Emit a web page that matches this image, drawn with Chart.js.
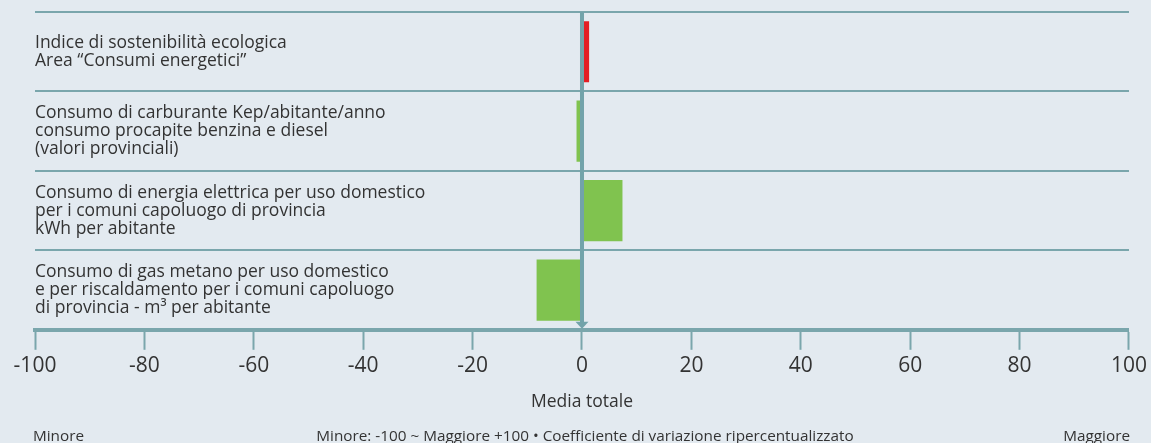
<!DOCTYPE html>
<html>
<head>
<meta charset="utf-8">
<script src="https://cdn.jsdelivr.net/npm/chart.js@4"></script>
<style>
  html, body { margin: 0; padding: 0; background: #e3eaf0; }
  #wrap { width: 1151px; height: 443px; position: relative; }
</style>
</head>
<body>
<div id="wrap"><canvas id="indexChart"></canvas></div>
<script>
// indicators, top to bottom
const indicators = [
    ['Indice di sostenibilità ecologica', 'Area \u201cConsumi energetici\u201d'],
    ['Consumo di carburante Kep/abitante/anno', 'consumo procapite benzina e diesel', '(valori provinciali)'],
    ['Consumo di energia elettrica per uso domestico', 'per i comuni capoluogo di provincia', 'kWh per abitante'],
    ['Consumo di gas metano per uso domestico', 'e per riscaldamento per i comuni capoluogo', 'di provincia - m\u00b3 per abitante']
];
// coefficient of variation, -100 .. +100
const values = [1.3, -1.0, 7.4, -8.3];
const barColors = ['#e31e24', '#80c34f', '#80c34f', '#80c34f'];

const axisMin = -100;
const axisMax = 100;
const axisStep = 20;
const axisTitle = 'Media totale';
const footLeft = 'Minore';
const footCenter = 'Minore: -100 ~ Maggiore +100 \u2022 Coefficiente di variazione ripercentualizzato';
const footRight = 'Maggiore';

const teal = '#7aa6ac';
const textColor = '#333333';
const fontFamily = "'Open Sans', 'Noto Sans', sans-serif";

// thick vertical line on the zero value, with a small arrow at the bottom
const zeroLine = {
    id: 'zeroLine',
    afterDatasetsDraw(chart) {
        const { ctx, chartArea, scales } = chart;
        const x = scales.x.getPixelForValue(0);
        ctx.save();
        ctx.strokeStyle = '#72a3aa';
        ctx.lineWidth = 4;
        ctx.beginPath();
        ctx.moveTo(x, chartArea.top);
        ctx.lineTo(x, chartArea.bottom - 4);
        ctx.stroke();
        ctx.fillStyle = '#72a3aa';
        ctx.beginPath();
        ctx.moveTo(x - 6.5, chartArea.bottom - 8);
        ctx.lineTo(x + 6.5, chartArea.bottom - 8);
        ctx.lineTo(x, chartArea.bottom - 1);
        ctx.closePath();
        ctx.fill();
        ctx.restore();
    }
};

// the scale legend line under the chart
const footNote = {
    id: 'footNote',
    afterDraw(chart) {
        const { ctx, chartArea, scales } = chart;
        const y = 437;
        ctx.save();
        ctx.fillStyle = textColor;
        ctx.font = '15.3px ' + fontFamily;
        ctx.textBaseline = 'middle';
        ctx.textAlign = 'left';
        ctx.fillText(footLeft, chartArea.left - 2, y);
        ctx.textAlign = 'center';
        ctx.fillText(footCenter, scales.x.getPixelForValue(0) + 3, y);
        ctx.textAlign = 'right';
        ctx.fillText(footRight, chartArea.right + 1, y);
        ctx.restore();
    }
};

const ctx = document.getElementById('indexChart').getContext('2d');
new Chart(ctx, {
    type: 'bar',
    data: {
        labels: indicators,
        datasets: [{
            data: values,
            backgroundColor: barColors,
            borderWidth: 0,
            barPercentage: 0.77,
            categoryPercentage: 1
        }]
    },
    options: {
        indexAxis: 'y',
        responsive: true,
        maintainAspectRatio: false,
        animation: false,
        layout: { padding: { left: 35, right: 21, top: 12, bottom: 30 } },
        plugins: {
            legend: { display: false },
            tooltip: { enabled: false }
        },
        scales: {
            x: {
                min: axisMin,
                max: axisMax,
                ticks: {
                    stepSize: axisStep,
                    color: textColor,
                    font: { family: fontFamily, size: 21 },
                    padding: 4
                },
                grid: {
                    drawOnChartArea: false,
                    tickLength: 20,
                    tickWidth: 2,
                    tickColor: teal
                },
                border: { color: teal, width: 4 },
                title: {
                    display: true,
                    text: axisTitle,
                    color: textColor,
                    font: { family: fontFamily, size: 17.5 },
                    padding: { top: 9, bottom: 0 }
                }
            },
            y: {
                ticks: {
                    mirror: true,
                    padding: 0,
                    color: textColor,
                    font: { family: fontFamily, size: 17.5, lineHeight: '18px' }
                },
                grid: {
                    color: teal,
                    lineWidth: 2,
                    drawTicks: false
                },
                border: { display: false },
                afterFit(scale) {
                    // labels sit inside the plot, they need no room above or below it
                    scale.paddingTop = 0;
                    scale.paddingBottom = 0;
                }
            }
        }
    },
    plugins: [zeroLine, footNote]
});
</script>
</body>
</html>
